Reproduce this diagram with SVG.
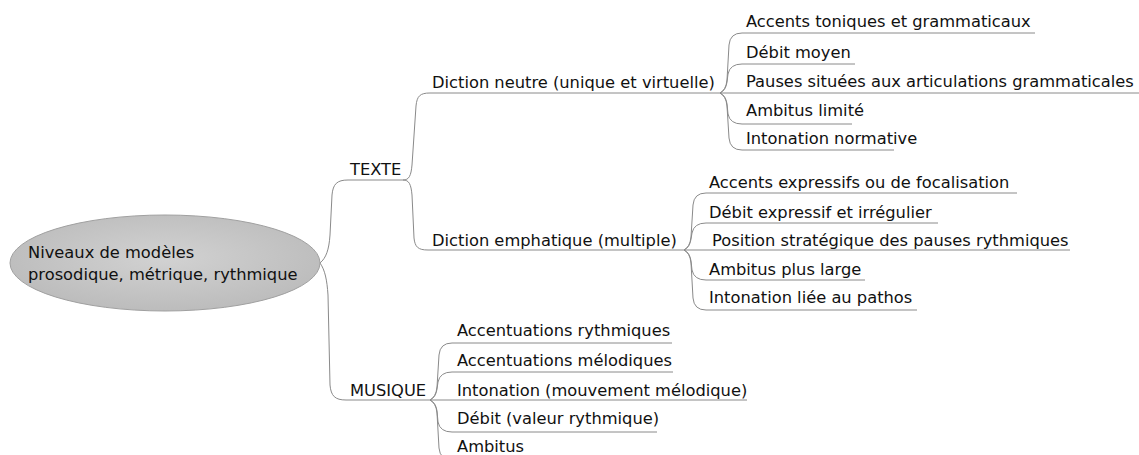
<svg xmlns="http://www.w3.org/2000/svg" width="1139" height="455" viewBox="0 0 1139 455">
<defs>
<radialGradient id="g" cx="50%" cy="45%" r="60%">
<stop offset="0" stop-color="#d2d2d2"/>
<stop offset="1" stop-color="#bababa"/>
</radialGradient>
</defs>
<style>
text{font-family:"DejaVu Sans","Liberation Sans",sans-serif;font-size:16.3px;fill:#111111}
.c path{fill:none;stroke:#8a8a8a;stroke-width:1}
</style>
<rect width="1139" height="455" fill="#ffffff"/>
<g class="c" id="connectors">
<path d="M320,263 C326,258 329,250 330,235 L332,195 C333,184 337,180 348,180 L403,180"/>
<path d="M320,263 C325,270 327,280 328,295 L330,385 C331,396 335,400 346,400 L430,400"/>
<path d="M403,180 C409,180 411,176 412,165 L416,106 C417,96 420,93 430,93 L720,93"/>
<path d="M403,180 C409,180 411,184 412,195 L414,238 C415,247 418,250 428,250 L684,250"/>
<path d="M720,93 Q726,90 727,80 L729,45 Q730,33 742,33 L1035,33"/>
<path d="M720,93 Q726,90 727,82 L728,74 Q730,64 742,64 L855,64"/>
<path d="M720,93 L1139,93"/>
<path d="M720,93 Q726,96 727,104 L728,114 Q730,124 742,124 L852,124"/>
<path d="M720,93 Q726,96 727,106 L729,138 Q730,150 742,150 L894,150"/>
<path d="M684,250 Q690,247 691,237 L693,205 Q694,193 706,193 L1017,193"/>
<path d="M684,250 Q690,247 691,239 L692,233 Q694,223 706,223 L938,223"/>
<path d="M684,250 L1070,250"/>
<path d="M684,250 Q690,253 691,261 L692,270 Q694,280 706,280 L865,280"/>
<path d="M684,250 Q690,253 691,263 L693,298 Q694,310 706,310 L917,310"/>
<path d="M430,400 Q436,397 437,387 L439,355 Q440,343 452,343 L672,343"/>
<path d="M430,400 Q436,397 437,389 L438,382 Q440,372 452,372 L673,372"/>
<path d="M430,400 L747,400"/>
<path d="M430,400 Q436,403 437,411 L438,422 Q440,432 452,432 L657,432"/>
<path d="M430,400 Q436,403 437,413 L439,448 Q440,460 452,460 L560,460"/>
</g>
<g id="root">
<ellipse cx="165" cy="263" rx="155" ry="48" fill="url(#g)" stroke="#a0a0a0" stroke-width="1"/>
<text x="28" y="258">Niveaux de modèles</text>
<text x="28" y="280">prosodique, métrique, rythmique</text>
</g>
<g id="texte"><text x="350" y="175">TEXTE</text></g>
<g id="musique"><text x="350" y="396">MUSIQUE</text></g>
<g id="neutre"><text x="432" y="88">Diction neutre (unique et virtuelle)</text></g>
<g id="emph"><text x="432" y="246">Diction emphatique (multiple)</text></g>
<g id="n1"><text x="746" y="27">Accents toniques et grammaticaux</text></g>
<g id="n2"><text x="746" y="58">Débit moyen</text></g>
<g id="n3"><text x="746" y="87">Pauses situées aux articulations grammaticales</text></g>
<g id="n4"><text x="746" y="116">Ambitus limité</text></g>
<g id="n5"><text x="746" y="144">Intonation normative</text></g>
<g id="e1"><text x="709" y="188">Accents expressifs ou de focalisation</text></g>
<g id="e2"><text x="709" y="218">Débit expressif et irrégulier</text></g>
<g id="e3"><text x="712" y="246">Position stratégique des pauses rythmiques</text></g>
<g id="e4"><text x="709" y="275">Ambitus plus large</text></g>
<g id="e5"><text x="709" y="303">Intonation liée au pathos</text></g>
<g id="m1"><text x="457" y="336">Accentuations rythmiques</text></g>
<g id="m2"><text x="457" y="366">Accentuations mélodiques</text></g>
<g id="m3"><text x="457" y="396">Intonation (mouvement mélodique)</text></g>
<g id="m4"><text x="457" y="424">Débit (valeur rythmique)</text></g>
<g id="m5"><text x="457" y="452">Ambitus</text></g>
</svg>
